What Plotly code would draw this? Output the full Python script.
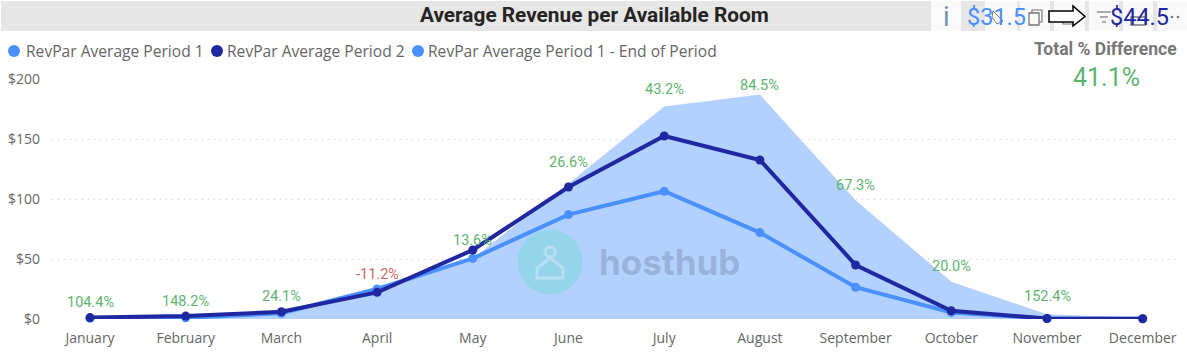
import plotly.graph_objects as go

W, H = 1187, 363

months = ["January", "February", "March", "April", "May", "June", "July",
          "August", "September", "October", "November", "December"]
period1 = [0.6, 1.0, 4.8, 25.0, 50.5, 87.0, 106.5, 72.0, 26.5, 5.5, 0.3, 0.2]
period2 = [1.2, 2.4, 6.0, 22.2, 57.5, 110.0, 152.5, 132.5, 45.0, 6.8, 0.4, 0.2]
period1_end = [0.3, 0.9, 4.8, 25.0, 50.5, 113.0, 177.0, 187.0, 99.0, 31.0, 4.0, 1.0]
pct_labels = ["104.4%", "148.2%", "24.1%", "-11.2%", "13.6%", "26.6%", "43.2%",
              "84.5%", "67.3%", "20.0%", "152.4%", ""]
pct_colors = ["#5cb56e"] * 3 + ["#cf6465"] + ["#5cb56e"] * 8
pct_shift = [5, 4, 5, 4, -1, 10, 7, -1, 4, 5, 7, 0]
y_ticks = [0, 50, 100, 150, 200]
y_tick_labels = ["$0", "$50", "$100", "$150", "$200"]
legend_names = ["RevPar Average Period 1", "RevPar Average Period 2",
                "RevPar Average Period 1 - End of Period"]

BLUE, NAVY, AREA = "#4a90ff", "#1f28a0", "#b3d1ff"
GREEN = "#5cb56e"
BODY = "Open Sans"
DIN = "Roboto"
idx = list(range(12))

fx = lambda px: px / W
fy = lambda py: 1 - py / H

fig = go.Figure()
fig.add_trace(go.Scatter(x=idx, y=period1_end, mode="lines", fill="tozeroy", fillcolor=AREA,
                         line=dict(width=0, color=AREA), name=legend_names[2], cliponaxis=False))
fig.add_trace(go.Scatter(x=idx, y=period1, mode="lines+markers", line=dict(color=BLUE, width=4),
                         marker=dict(size=9, color=BLUE), name=legend_names[0], cliponaxis=False))
fig.add_trace(go.Scatter(x=idx, y=period2, mode="lines+markers", line=dict(color=NAVY, width=4),
                         marker=dict(size=9, color=NAVY), name=legend_names[1], cliponaxis=False))

ann = []
def text(px, py, s, size, color, font=BODY, anchor="center", bold=False):
    ann.append(dict(xref="paper", yref="paper", x=fx(px), y=fy(py), text=f"<b>{s}</b>" if bold else s,
                    showarrow=False, xanchor=anchor, yanchor="middle",
                    font=dict(size=size, color=color, family=font), borderpad=0))

for i, lab in enumerate(pct_labels):
    if lab:
        ann.append(dict(x=i, y=max(period1[i], period2[i], period1_end[i]), xref="x", yref="y", text=lab,
                        showarrow=False, yanchor="bottom", yshift=pct_shift[i],
                        font=dict(size=14.5, color=pct_colors[i], family=DIN)))

text(595, 15, "Average Revenue per Available Room", 20.8, "#252423", DIN, bold=True)
text(25, 51, legend_names[0], 15.6, "#666666", anchor="left")
text(226, 51, legend_names[1], 15.6, "#666666", anchor="left")
text(427, 51, legend_names[2], 15.6, "#666666", anchor="left")
text(1178, 49, "Total % Difference", 17.5, "#777777", DIN, anchor="right", bold=True)
text(1106, 78, "41.1%", 25, GREEN, DIN)
text(946, 17, "i", 27, "#6f94b5", DIN)
text(669, 262, "hosthub", 35, "rgba(120,140,170,0.45)", "Inter", bold=True)

shapes = []
def rect(x0, y0, x1, y1, color, layer="above"):
    shapes.append(dict(type="rect", xref="paper", yref="paper", x0=fx(x0), x1=fx(x1), y0=fy(y0), y1=fy(y1),
                       fillcolor=color, line=dict(width=0), layer=layer))
def circle(cx, cy, r, fill, line=None, lw=0):
    shapes.append(dict(type="circle", xref="paper", yref="paper", x0=fx(cx-r), x1=fx(cx+r), y0=fy(cy-r), y1=fy(cy+r),
                       fillcolor=fill, line=dict(width=lw, color=line or fill), layer="above"))
def path(pts, stroke, lw=1, fill="rgba(0,0,0,0)", close=False):
    d = "M " + " L ".join(f"{fx(a):.5f} {fy(b):.5f}" for a, b in pts) + (" Z" if close else "")
    shapes.append(dict(type="path", xref="paper", yref="paper", path=d, fillcolor=fill,
                       line=dict(width=lw, color=stroke), layer="above"))

rect(1, 1, W, 31, "#e6e6e6")
for a, b in [(931, 961), (985, 1017), (1020, 1050), (1054, 1085), (1089, 1119), (1123, 1153), (1157, 1187)]:
    rect(a, 1, b, 31, "#fafafa")

# toolbar glyphs
GLY = "#777777"
path([(993, 11), (1003, 21), (997, 24), (992, 17), (993, 11)], GLY, 1)
path([(1029, 13), (1039, 13), (1039, 25), (1029, 25)], GLY, 1.3, close=True)
path([(1032, 13), (1032, 10), (1042, 10), (1042, 22), (1039, 22)], GLY, 1.2)
path([(1063, 24), (1065, 12), (1073, 12), (1075, 24)], GLY, 1.2, close=True)
for yy, a, b in [(12, 1097, 1111), (17, 1100, 1108), (22, 1102, 1106)]:
    path([(a, yy), (b, yy)], GLY, 1.2)
path([(1131, 17), (1145, 17), (1145, 25), (1131, 25)], GLY, 1.3, close=True)
for xx in (1166, 1172, 1178):
    circle(xx, 17, 1.3, GLY)
# overlaid arrow
path([(1049, 11), (1073, 11), (1073, 6), (1085, 16.5), (1073, 26), (1073, 22), (1049, 22)],
     "#000000", 1.5, fill="#ffffff", close=True)
text(997, 17, "$31.5", 23.5, BLUE, DIN)
text(1139, 17, "$44.5", 23.5, NAVY, DIN)

# legend dots
circle(14, 51, 6, BLUE)
circle(217, 51, 6, NAVY)
circle(418, 51, 6, BLUE)

# watermark
circle(550, 262, 32.5, "#95d5ea")
circle(550, 252, 5, "rgba(0,0,0,0)", "#b9dff2", 3)
path([(550, 258), (563, 268), (563, 278), (537, 278), (537, 268)], "#b9dff2", 3, close=True)

dot = "1px,5px"
fig.update_layout(
    width=W, height=H, autosize=False, margin=dict(l=0, r=0, t=0, b=0, pad=0),
    paper_bgcolor="white", plot_bgcolor="white", showlegend=False, annotations=ann, shapes=shapes,
    xaxis=dict(domain=[fx(52), fx(1178)], range=[(52-90)/95.7, (1178-90)/95.7], tickmode="array",
               tickvals=idx, ticktext=months, showgrid=False, zeroline=False, showline=False, ticks="",
               automargin=False,
               ticklabelstandoff=9, tickfont=dict(size=14, color="#666666", family=BODY)),
    yaxis=dict(domain=[fy(319), fy(79)], range=[0, 200], tickmode="array", tickvals=y_ticks,
               ticktext=y_tick_labels, showgrid=True, gridcolor="#c8c8c8", griddash=dot, gridwidth=1,
               zeroline=False, showline=False, ticks="", ticklabelstandoff=11, automargin=False,
               tickfont=dict(size=14, color="#666666", family=BODY)),
)
fig.write_html("out.html", config=dict(displayModeBar=False),
               post_script="document.body.style.margin='0';")
